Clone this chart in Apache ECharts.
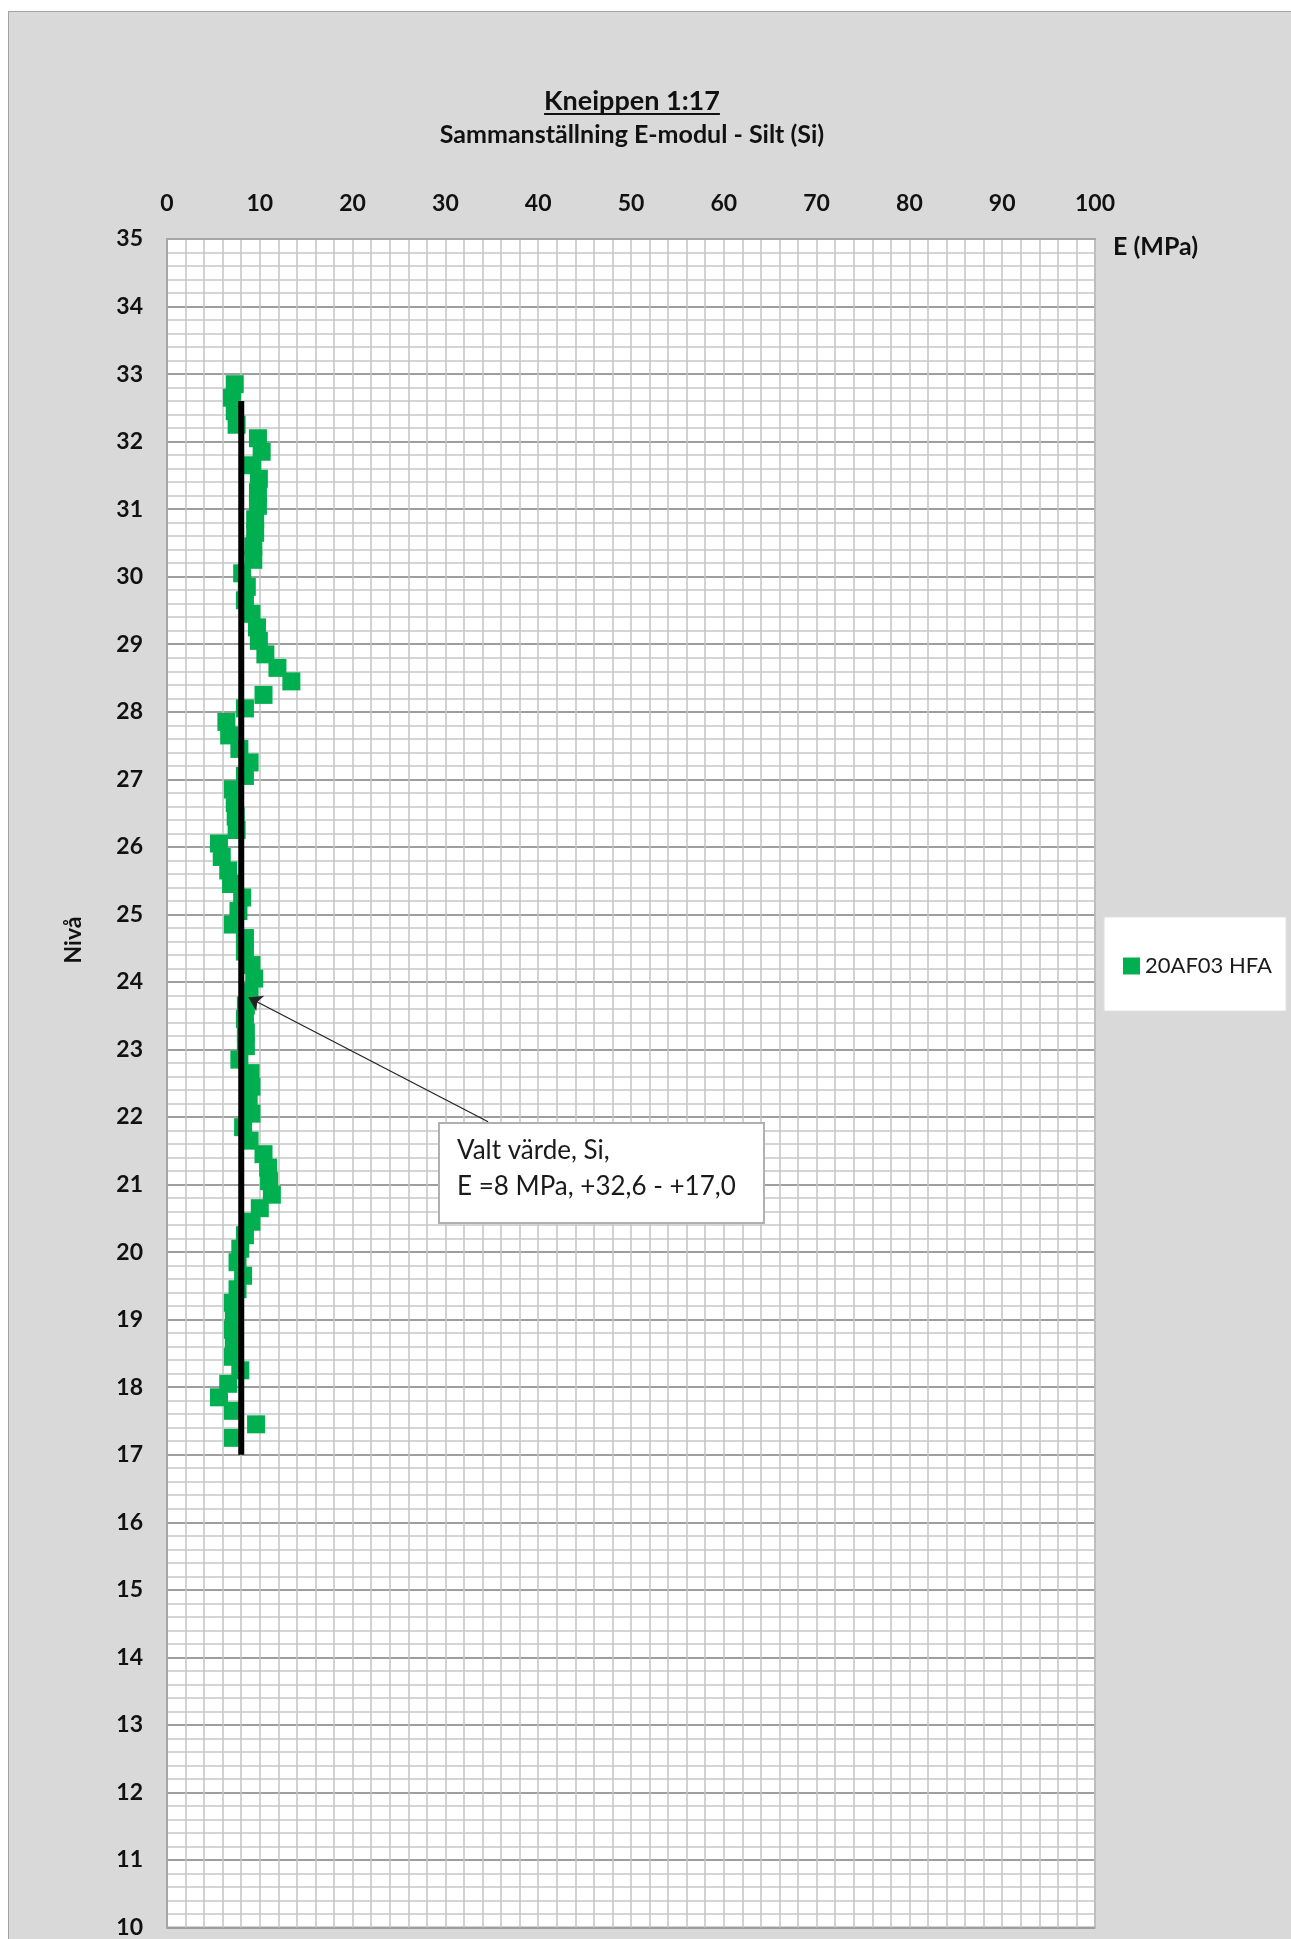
<!DOCTYPE html>
<html>
<head>
<meta charset="utf-8">
<title>Kneippen 1:17 – E-modul Silt</title>
<script src="https://cdn.jsdelivr.net/npm/echarts@6/dist/echarts.min.js"></script>
<style>
  html, body { margin: 0; padding: 0; background: #ffffff; }
  #wrap { position: relative; width: 1291px; height: 1939px; overflow: hidden; }
  #panel { position: absolute; left: 8px; top: 11px; width: 1300px; height: 1950px;
           background: #d9d9d9; border-top: 1.5px solid #a3a3a3; border-left: 1.5px solid #a3a3a3; }
  #chart { position: absolute; left: 0; top: 0; width: 1291px; height: 1939px; }
</style>
</head>
<body>
<div id="wrap"><div id="panel"></div><div id="chart"></div></div>
<script>
// Nivå (m) for each measured point, top to bottom
const niva = [
  32.85, 32.65, 32.45, 32.25, 32.05, 31.85, 31.65, 31.45, 31.25, 31.05,
  30.85, 30.65, 30.45, 30.25, 30.05, 29.85, 29.65, 29.45, 29.25, 29.05,
  28.85, 28.65, 28.45, 28.25, 28.05, 27.85, 27.65, 27.45, 27.25, 27.05,
  26.85, 26.65, 26.45, 26.25, 26.05, 25.85, 25.65, 25.45, 25.25, 25.05,
  24.85, 24.65, 24.45, 24.25, 24.05, 23.85, 23.65, 23.45, 23.25, 23.05,
  22.85, 22.65, 22.45, 22.25, 22.05, 21.85, 21.65, 21.45, 21.25, 21.05,
  20.85, 20.65, 20.45, 20.25, 20.05, 19.85, 19.65, 19.45, 19.25, 19.05,
  18.85, 18.65, 18.45, 18.25, 18.05, 17.85, 17.65, 17.45, 17.25
];
// E-modul (MPa), sounding 20AF03 HFA
const eModul = [
  7.3, 7.0, 7.3, 7.5, 9.8, 10.2, 9.2, 9.9, 9.8, 9.8,
  9.5, 9.5, 9.3, 9.3, 8.1, 8.6, 8.4, 9.1, 9.7, 9.9,
  10.6, 11.9, 13.4, 10.4, 8.4, 6.4, 6.7, 7.8, 8.9, 8.4,
  7.1, 7.3, 7.4, 7.5, 5.6, 5.9, 6.6, 6.9, 8.1, 7.7,
  7.1, 8.4, 8.4, 9.1, 9.4, 8.9, 8.5, 8.4, 8.5, 8.5,
  7.8, 9.0, 9.1, 8.8, 9.1, 8.2, 8.9, 10.4, 10.9, 11.0,
  11.3, 10.0, 9.1, 8.4, 7.9, 7.6, 8.2, 7.6, 7.1, 7.2,
  7.1, 7.2, 7.1, 7.9, 6.6, 5.6, 7.1, 9.6, 7.1
];
const serieNamn = '20AF03 HFA';

// Chosen design value: E = 8 MPa between +32,6 and +17,0
const valtE = 8;
const valtTopp = 32.6;
const valtBotten = 17.0;

// Axis ranges
const eMin = 0, eMax = 100, eSteg = 10;
const nivaMin = 10, nivaMax = 35, nivaSteg = 1;

// Callout arrow: from the text box corner to the design line
const pilStart = [34.6, 21.93];
const pilSpets = [8.8, 23.77];

const FONT = 'Lato, "Open Sans", sans-serif';
const TXT = '#111111';

const chart = echarts.init(document.getElementById('chart'), null, { renderer: 'canvas' });

function textWidth(str, font) {
  const c = document.createElement('canvas').getContext('2d');
  c.font = font;
  return c.measureText(str).width;
}
const titel = 'Kneippen 1:17';
const titelW = textWidth(titel, 'bold 27px Lato');

const option = {
  animation: false,
  backgroundColor: 'transparent',
  grid: {
    left: 167, top: 239, width: 928, height: 1689,
    show: true, backgroundColor: '#ffffff', borderColor: '#a6a6a6', borderWidth: 2
  },
  legend: {
    data: [serieNamn],
    left: 1118, top: 950,
    icon: 'rect', itemWidth: 17, itemHeight: 17, itemGap: 6,
    itemStyle: { opacity: 1 },
    textStyle: { fontFamily: FONT, fontSize: 22, color: '#1a1a1a' }
  },
  xAxis: {
    type: 'value', position: 'top',
    min: eMin, max: eMax, interval: eSteg,
    axisLine: { show: true, lineStyle: { color: '#a6a6a6', width: 2 } },
    axisTick: { show: false },
    axisLabel: { show: true, margin: 24, fontFamily: FONT, fontWeight: 'bold', fontSize: 23, color: TXT,
                 showMinLabel: true, showMaxLabel: true },
    splitLine: { show: true, lineStyle: { color: '#c4c4c4', width: 1.5 } },
    minorTick: { show: false, splitNumber: 5 },
    minorSplitLine: { show: true, lineStyle: { color: '#c4c4c4', width: 1.5 } }
  },
  yAxis: {
    type: 'value',
    min: nivaMin, max: nivaMax, interval: nivaSteg,
    axisLine: { show: true, lineStyle: { color: '#a6a6a6', width: 2 } },
    axisTick: { show: false },
    axisLabel: { show: true, margin: 24, fontFamily: FONT, fontWeight: 'bold', fontSize: 23, color: TXT,
                 showMinLabel: true, showMaxLabel: true },
    splitLine: { show: true, lineStyle: { color: '#9e9e9e', width: 2 } },
    minorTick: { show: false, splitNumber: 5 },
    minorSplitLine: { show: true, lineStyle: { color: '#c8c8c8', width: 1.5 } }
  },
  series: [
    {
      name: serieNamn,
      type: 'scatter',
      symbol: 'rect',
      symbolSize: 18,
      itemStyle: { color: '#00b050', opacity: 1 },
      data: niva.map((n, i) => [eModul[i], n]),
      z: 2
    },
    {
      name: 'Valt värde',
      type: 'line',
      data: [[valtE, valtTopp], [valtE, valtBotten]],
      symbol: 'none',
      lineStyle: { color: '#000000', width: 6, cap: 'butt' },
      z: 3
    },
    {
      name: 'pil',
      type: 'lines',
      coordinateSystem: 'cartesian2d',
      data: [{ coords: [pilStart, pilSpets] }],
      symbol: ['none', 'arrow'],
      symbolSize: 13,
      lineStyle: { color: '#222222', width: 1.2, opacity: 1, curveness: 0 },
      silent: true,
      z: 5
    }
  ],
  graphic: [
    { type: 'text', silent: true,
      style: { text: titel, x: 632, y: 101, align: 'center', verticalAlign: 'middle',
               fontFamily: FONT, fontWeight: 'bold', fontSize: 27, fill: TXT } },
    { type: 'line', silent: true,
      shape: { x1: 632 - titelW / 2, y1: 114, x2: 632 + titelW / 2, y2: 114 },
      style: { stroke: TXT, lineWidth: 1.8 } },
    { type: 'text', silent: true,
      style: { text: 'Sammanställning E-modul - Silt (Si)', x: 632, y: 135, align: 'center', verticalAlign: 'middle',
               fontFamily: FONT, fontWeight: 'bold', fontSize: 25, fill: TXT } },
    { type: 'text', silent: true,
      style: { text: 'E (MPa)', x: 1113, y: 247, align: 'left', verticalAlign: 'middle',
               fontFamily: FONT, fontWeight: 'bold', fontSize: 25, fill: TXT } },
    { type: 'text', silent: true, x: 74, y: 940, rotation: Math.PI / 2,
      style: { text: 'Nivå', x: 0, y: 0, align: 'center', verticalAlign: 'middle',
               fontFamily: FONT, fontWeight: 'bold', fontSize: 23, fill: TXT } },
    // legend frame
    { type: 'rect', silent: true, z: -1,
      shape: { x: 1104, y: 917, width: 182, height: 94 },
      style: { fill: '#ffffff', stroke: '#e0e0e0', lineWidth: 1 } },
    // callout box
    { type: 'rect', silent: true, z: 10,
      shape: { x: 439, y: 1123, width: 325, height: 100 },
      style: { fill: '#ffffff', stroke: '#b0b0b0', lineWidth: 2 } },
    { type: 'text', silent: true, z: 11,
      style: { text: 'Valt värde, Si,\nE =8 MPa, +32,6 - +17,0', x: 457, y: 1133, align: 'left', verticalAlign: 'top',
               lineHeight: 36, fontFamily: FONT, fontSize: 26, fill: '#1a1a1a' } }
  ]
};

chart.setOption(option);
</script>
</body>
</html>
